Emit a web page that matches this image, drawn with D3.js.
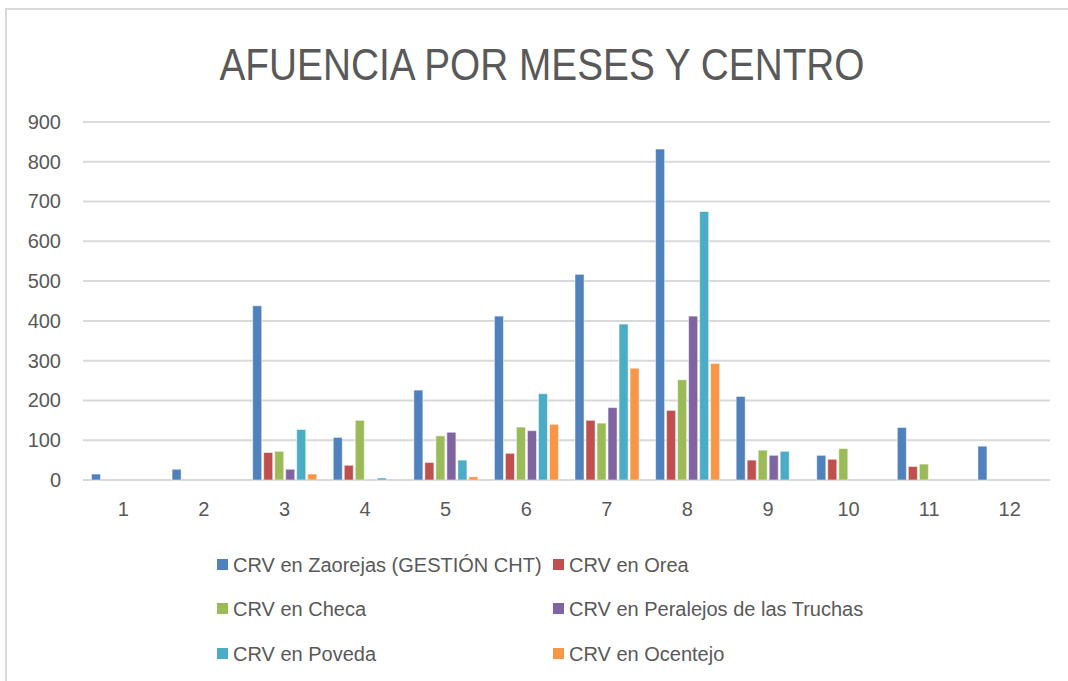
<!DOCTYPE html>
<html>
<head>
<meta charset="utf-8">
<script src="https://cdn.jsdelivr.net/npm/d3@7"></script>
<style>
  body { margin: 0; background: #fff; }
  svg { display: block; }
</style>
</head>
<body>
<div id="chart"></div>
<script>
// months on the x axis
var months = ["1", "2", "3", "4", "5", "6", "7", "8", "9", "10", "11", "12"];
var series = [
  "CRV en Zaorejas (GESTIÓN CHT)",
  "CRV en Orea",
  "CRV en Checa",
  "CRV en Peralejos de las Truchas",
  "CRV en Poveda",
  "CRV en Ocentejo"
];
var colors = ["#4f81bd", "#c0504d", "#9bbb59", "#8064a2", "#4bacc6", "#f79646"];

// values, one array per centre
var zaorejas = [15, 27, 438, 107, 226, 412, 517, 832, 210, 62, 132, 85];
var orea     = [0, 0, 69, 37, 44, 67, 150, 175, 50, 52, 34, 0];
var checa    = [0, 0, 72, 150, 111, 133, 143, 252, 75, 79, 40, 0];
var peralejos = [0, 0, 27, 0, 120, 124, 182, 412, 62, 0, 0, 0];
var poveda   = [0, 0, 127, 5, 50, 217, 392, 675, 72, 0, 0, 0];
var ocentejo = [0, 0, 15, 0, 8, 140, 281, 293, 0, 0, 0, 0];
var yTicks = [0, 100, 200, 300, 400, 500, 600, 700, 800, 900];

var allValues = [zaorejas, orea, checa, peralejos, poveda, ocentejo];

var W = 1068, H = 681;
var margin = {top: 122, right: 18, bottom: 201, left: 83};
var width = W - margin.left - margin.right,
    height = H - margin.top - margin.bottom;

var svg = d3.select("#chart")
  .append("svg")
  .attr("width", W)
  .attr("height", H);

// chart frame
svg.append("rect")
  .attr("x", 6).attr("y", 9)
  .attr("width", W + 20).attr("height", H + 20)
  .attr("fill", "none")
  .attr("stroke", "#d9d9d9")
  .attr("stroke-width", 2);

// title
svg.append("text")
  .attr("x", 542)
  .attr("y", 80)
  .attr("text-anchor", "middle")
  .attr("textLength", 645)
  .attr("lengthAdjust", "spacingAndGlyphs")
  .style("font-family", "'Liberation Sans Narrow', 'Liberation Sans', sans-serif")
  .style("font-size", "44px")
  .style("fill", "#595959")
  .text("AFUENCIA POR MESES Y CENTRO");

var g = svg.append("g")
  .attr("transform", "translate(" + margin.left + "," + margin.top + ")");

var x0 = d3.scaleBand()
  .domain(months)
  .range([0, width]);

var x1 = d3.scaleBand()
  .domain(d3.range(series.length))
  .range([8.5, x0.bandwidth() - 8])
  .paddingInner(0.18);

var y = d3.scaleLinear()
  .domain([0, 900])
  .range([height, 0]);

// gridlines
g.append("g")
  .selectAll("line")
  .data(yTicks)
  .enter()
  .append("line")
  .attr("x1", 0)
  .attr("x2", width)
  .attr("y1", function (d) { return y(d); })
  .attr("y2", function (d) { return y(d); })
  .attr("stroke", "#d9d9d9")
  .attr("stroke-width", 2);

// y axis labels
var yAxis = g.append("g")
  .attr("transform", "translate(-22,0)")
  .call(d3.axisLeft(y).tickValues(yTicks).tickSize(0).tickPadding(0));
yAxis.select(".domain").remove();
yAxis.selectAll("text")
  .style("font-family", "'Liberation Sans', sans-serif")
  .style("font-size", "20px")
  .style("fill", "#595959");

// x axis labels
var xAxis = g.append("g")
  .attr("transform", "translate(0," + height + ")")
  .call(d3.axisBottom(x0).tickSize(0).tickPadding(22));
xAxis.select(".domain").remove();
xAxis.selectAll("text")
  .style("font-family", "'Liberation Sans', sans-serif")
  .style("font-size", "20px")
  .style("fill", "#595959");

// bars
var groups = g.append("g")
  .selectAll("g")
  .data(months)
  .enter()
  .append("g")
  .attr("transform", function (d) { return "translate(" + x0(d) + ",0)"; });

groups.selectAll("rect")
  .data(function (d, i) {
    return allValues.map(function (vals, s) { return {s: s, v: vals[i]}; });
  })
  .enter()
  .filter(function (d) { return d.v > 0; })
  .append("rect")
  .attr("x", function (d) { return x1(d.s); })
  .attr("y", function (d) { return y(d.v); })
  .attr("width", x1.bandwidth())
  .attr("height", function (d) { return height - y(d.v); })
  .attr("fill", function (d) { return colors[d.s]; })
  .attr("stroke", "#ffffff")
  .attr("stroke-opacity", 0.5)
  .attr("stroke-width", 1);

// legend, two columns
var legendCols = [217, 553];
var legendRows = [565, 609, 654];
var legend = svg.append("g")
  .selectAll("g")
  .data(series)
  .enter()
  .append("g")
  .attr("transform", function (d, i) {
    return "translate(" + legendCols[i % 2] + "," + legendRows[Math.floor(i / 2)] + ")";
  });
legend.append("rect")
  .attr("x", 0).attr("y", -6)
  .attr("width", 11).attr("height", 11)
  .attr("fill", function (d, i) { return colors[i]; });
legend.append("text")
  .attr("x", 16)
  .attr("y", 7)
  .style("font-family", "'Liberation Sans', sans-serif")
  .style("font-size", "20px")
  .style("fill", "#595959")
  .text(function (d) { return d; });
</script>
</body>
</html>
